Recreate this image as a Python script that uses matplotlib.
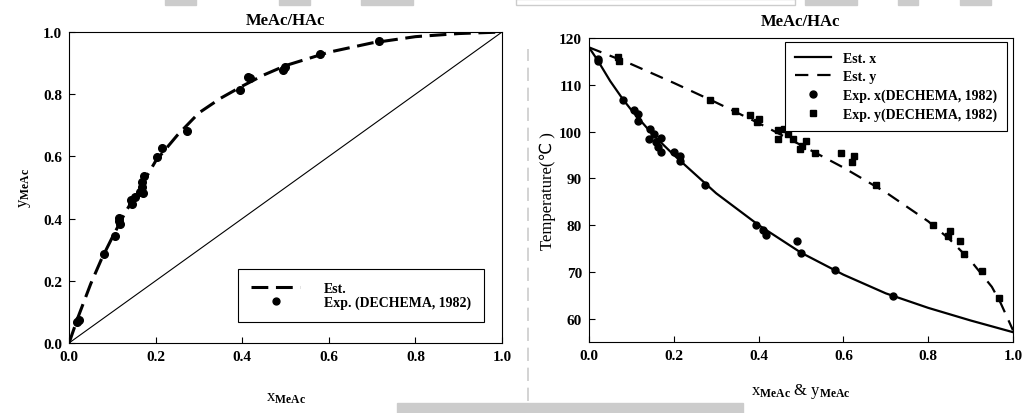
import matplotlib
matplotlib.use("Agg")
import matplotlib.pyplot as plt
from matplotlib.patches import Rectangle
from matplotlib.lines import Line2D
from matplotlib.ticker import FormatStrFormatter

plt.rcParams['font.family'] = ['Liberation Serif', 'DejaVu Sans']
plt.rcParams['font.weight'] = 'bold'
plt.rcParams['mathtext.fontset'] = 'custom'
plt.rcParams['mathtext.rm'] = 'Liberation Serif:bold'
plt.rcParams['mathtext.bf'] = 'Liberation Serif:bold'
plt.rcParams['mathtext.it'] = 'Liberation Serif:bold'

# --- x-y diagram (left) ---
xy_exp_x = [0.019, 0.022, 0.080, 0.107, 0.115, 0.116, 0.118, 0.143, 0.145, 0.153,
            0.164, 0.168, 0.169, 0.172, 0.170, 0.202, 0.215, 0.272, 0.395, 0.413,
            0.418, 0.493, 0.498, 0.579, 0.716]
xy_exp_y = [0.068, 0.075, 0.285, 0.345, 0.401, 0.391, 0.382, 0.459, 0.448, 0.468,
            0.484, 0.517, 0.500, 0.538, 0.481, 0.597, 0.627, 0.683, 0.815, 0.856,
            0.851, 0.879, 0.888, 0.930, 0.971]
xy_est_x = [0.0, 0.02, 0.05, 0.075, 0.1, 0.13, 0.16, 0.2, 0.25, 0.3, 0.35, 0.4,
            0.45, 0.5, 0.6, 0.7, 0.8, 0.9, 1.0]
xy_est_y = [0.0, 0.08, 0.19, 0.27, 0.34, 0.42, 0.49, 0.585, 0.668, 0.74, 0.787, 0.826,
            0.862, 0.892, 0.935, 0.965, 0.985, 0.995, 1.0]

# --- T-x-y diagram (right) ---
tx_exp_x = [0.021, 0.021, 0.080, 0.106, 0.116, 0.116, 0.143, 0.142, 0.153, 0.163,
            0.171, 0.171, 0.159, 0.201, 0.214, 0.214, 0.273, 0.394, 0.411, 0.418,
            0.491, 0.499, 0.580, 0.718]
tx_exp_T = [115.6, 115.0, 106.8, 104.5, 103.8, 102.3, 100.6, 98.5, 99.5, 96.8,
            98.6, 95.6, 97.8, 95.6, 94.8, 93.6, 88.6, 80.1, 79.0, 77.8,
            76.7, 74.0, 70.3, 64.8]
ty_exp_y = [0.068, 0.071, 0.285, 0.345, 0.379, 0.401, 0.397, 0.446, 0.446, 0.459,
            0.470, 0.480, 0.497, 0.513, 0.503, 0.534, 0.594, 0.621, 0.625, 0.678,
            0.812, 0.847, 0.851, 0.875, 0.884, 0.927, 0.968]
ty_exp_T = [115.9, 115.0, 106.7, 104.3, 103.6, 102.6, 102.0, 100.4, 98.5, 100.6,
            99.5, 98.5, 96.3, 98.0, 97.0, 95.5, 95.5, 93.5, 94.7, 88.5,
            80.0, 77.6, 78.7, 76.6, 73.9, 70.1, 64.5]
est_x = [0.0, 0.02, 0.05, 0.08, 0.1, 0.15, 0.2, 0.3, 0.4, 0.5, 0.6, 0.7, 0.8, 0.9, 1.0]
est_Tx = [118.0, 115.3, 110.8, 106.9, 104.6, 99.4, 95.0, 86.8, 80.0, 74.1, 69.4, 65.4,
          62.3, 59.6, 57.1]
est_y = [0.0, 0.1, 0.2, 0.3, 0.4, 0.5, 0.6, 0.7, 0.8, 0.85, 0.9, 0.95, 0.97, 1.0]
est_Ty = [118.0, 114.4, 110.4, 106.2, 101.8, 97.1, 92.3, 87.0, 80.8, 77.0, 72.4, 66.8,
          63.5, 57.5]

fig = plt.figure(figsize=(10.32, 4.14), dpi=100)

# scan artefacts around the page
for x0, w in [(0.16, 0.03), (0.27, 0.03), (0.35, 0.05), (0.78, 0.05), (0.87, 0.02), (0.93, 0.03)]:
    fig.patches.append(Rectangle((x0, 0.985), w, 0.015, transform=fig.transFigure,
                                 color='#cccccc', zorder=0))
fig.patches.append(Rectangle((0.50, 0.985), 0.27, 0.015, transform=fig.transFigure,
                             facecolor='none', edgecolor='#cccccc', zorder=0))
fig.patches.append(Rectangle((0.385, 0.0), 0.335, 0.025, transform=fig.transFigure,
                             color='#cccccc', zorder=0))
fig.lines.append(Line2D([0.512, 0.512], [0.03, 0.88], transform=fig.transFigure,
                        color='#cccccc', lw=1.2, ls=(0, (8, 4)), zorder=0))

tick_kw = dict(direction='in', labelsize=11, length=4, width=0.8, pad=5)

ax1 = fig.add_axes([0.0669, 0.1691, 0.4196, 0.7512])
ax1.plot([0, 1], [0, 1], color='black', lw=0.8)
ax1.plot(xy_est_x, xy_est_y, color='black', lw=2.2, ls=(0, (5.5, 2.5)), label='Est.')
ax1.plot(xy_exp_x, xy_exp_y, 'o', color='black', ms=5.5, label='Exp. (DECHEMA, 1982)')
ax1.set_xlim(0, 1)
ax1.set_ylim(0, 1)
ax1.set_xticks([0, 0.2, 0.4, 0.6, 0.8, 1.0])
ax1.set_yticks([0, 0.2, 0.4, 0.6, 0.8, 1.0])
ax1.xaxis.set_major_formatter(FormatStrFormatter('%.1f'))
ax1.yaxis.set_major_formatter(FormatStrFormatter('%.1f'))
ax1.tick_params(**tick_kw)
ax1.set_title('MeAc/HAc', fontsize=12, fontweight='bold', pad=6)
ax1.set_xlabel(r'x$_{\mathrm{MeAc}}$', fontsize=12, labelpad=19)
ax1.set_ylabel(r'y$_{\mathrm{MeAc}}$', fontsize=12, labelpad=7)
leg1 = ax1.legend(loc='lower right', bbox_to_anchor=(0.958, 0.0675), borderaxespad=0,
                  frameon=True, fancybox=False, edgecolor='black', framealpha=1,
                  fontsize=10, handlelength=3.5, borderpad=0.95, labelspacing=0.0,
                  handletextpad=1.7, markerscale=0.9)
leg1.get_frame().set_linewidth(0.8)

ax2 = fig.add_axes([0.5707, 0.1715, 0.4109, 0.7343])
ax2.plot(est_x, est_Tx, color='black', lw=1.6, label='Est. x')
ax2.plot(est_y, est_Ty, color='black', lw=1.6, ls=(0, (6, 4)), label='Est. y')
ax2.plot(tx_exp_x, tx_exp_T, 'o', color='black', ms=5, label='Exp. x(DECHEMA, 1982)')
ax2.plot(ty_exp_y, ty_exp_T, 's', color='black', ms=5, label='Exp. y(DECHEMA, 1982)')
ax2.set_xlim(0, 1)
ax2.set_ylim(55, 120)
ax2.set_xticks([0, 0.2, 0.4, 0.6, 0.8, 1.0])
ax2.set_yticks([60, 70, 80, 90, 100, 110, 120])
ax2.xaxis.set_major_formatter(FormatStrFormatter('%.1f'))
ax2.tick_params(**tick_kw)
ax2.set_title('MeAc/HAc', fontsize=12, fontweight='bold', pad=9)
ax2.set_xlabel(r'x$_{\mathrm{MeAc}}$ & y$_{\mathrm{MeAc}}$', fontsize=12, labelpad=14)
ax2.set_ylabel('Temperature(\u2103 )', fontsize=12, labelpad=2)
leg2 = ax2.legend(loc='upper right', bbox_to_anchor=(0.986, 0.987), borderaxespad=0,
                  frameon=True, fancybox=False, edgecolor='black', framealpha=1,
                  fontsize=10, handlelength=2.6, borderpad=0.7, labelspacing=0.4,
                  handletextpad=0.9)
leg2.get_frame().set_linewidth(0.8)

fig.savefig('out.png', dpi=100)
